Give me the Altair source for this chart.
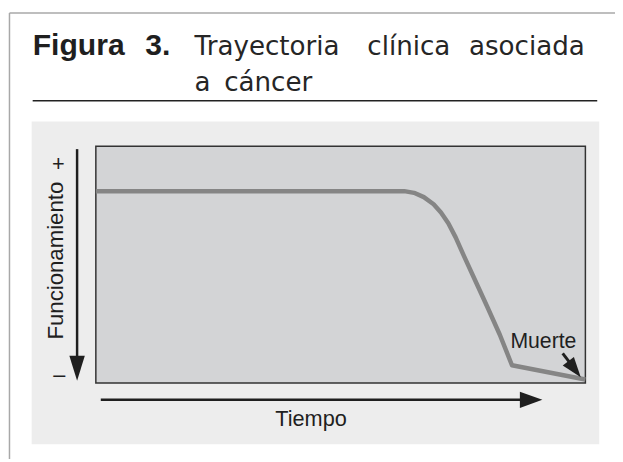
import altair as alt
import pandas as pd

# ---- data ----
time = [0, 63, 65, 67, 69, 70.5, 72, 73.5, 75, 77, 80, 82.5, 85, 100]
funcionamiento = [81, 81, 80.3, 78.5, 75.5, 72, 67.5, 61.5, 54.5, 45.5, 32, 20.5, 7.5, 1.5]

title_bold = ["Figura", "3."]
title_words_1 = ["Trayectoria", "clínica", "asociada"]
title_words_2 = ["a", "cáncer"]
y_label = "Funcionamiento"
x_label = "Tiempo"
death_label = "Muerte"

df = pd.DataFrame({"t": time, "f": funcionamiento})

W, H = 615, 454
xs = alt.Scale(domain=[0, 100], range=[89, 585])
ys = alt.Scale(domain=[0, 100], range=[377, 137])
one = alt.Data(values=[{}])

FRAME = "#a8a8a8"
INK = "#1f1f1f"
TEXT_FONT = "Liberation Sans"
TITLE_FONT = "DejaVu Sans"

def rule(x1, x2, y1, y2, color, width):
    return alt.Chart(one).mark_rule(color=color, strokeWidth=width).encode(
        x=alt.value(x1), x2=alt.value(x2), y=alt.value(y1), y2=alt.value(y2))

def label(txt, x, y, size, font, weight="normal", angle=0, align="left", baseline="alphabetic", color=INK):
    return alt.Chart(one).mark_text(
        text=txt, fontSize=size, font=font, fontWeight=weight, angle=angle,
        align=align, baseline=baseline, color=color).encode(x=alt.value(x), y=alt.value(y))

def head(x, y, size, angle, ratio=0.62):
    return alt.Chart(one).mark_point(
        shape=f"M-{ratio},-1 L{ratio},-1 L0,1 Z", filled=True, color=INK, opacity=1,
        size=size, angle=angle, strokeWidth=0).encode(x=alt.value(x), y=alt.value(y))

layers = []
# outer frame
layers.append(rule(1.5, W, 2, 2, FRAME, 1.5))
layers.append(rule(1.5, 1.5, 2, H, FRAME, 1.5))
# title
layers.append(label(title_bold[0], 25, 45, 30.5, TEXT_FONT, "bold"))
layers.append(label(title_bold[1], 139, 45, 30.5, TEXT_FONT, "bold"))
for w, x in zip(title_words_1, [189, 364, 467]):
    layers.append(label(w, x, 45, 26.5, TITLE_FONT, color="#262626"))
for w, x in zip(title_words_2, [189, 219]):
    layers.append(label(w, x, 81, 26.5, TITLE_FONT, color="#262626"))
layers.append(rule(25, 597, 91, 91, "#222222", 1.5))
# panel background
layers.append(alt.Chart(one).mark_rect(color="#ededed").encode(
    x=alt.value(24), x2=alt.value(599), y=alt.value(112), y2=alt.value(439)))
# plot area via data scales
layers.append(alt.Chart(alt.Data(values=[{"a": 0, "b": 100}])).mark_rect(
    fill="#d3d4d6", stroke="#333333", strokeWidth=1.5).encode(
    x=alt.X("a:Q", scale=xs, axis=None), x2="b:Q",
    y=alt.Y("a:Q", scale=ys, axis=None), y2="b:Q"))
# trajectory
layers.append(alt.Chart(df).mark_line(color="#858585", strokeWidth=4.5, interpolate="linear",
                                      strokeCap="butt", strokeJoin="round").encode(
    x=alt.X("t:Q", scale=xs, axis=None), y=alt.Y("f:Q", scale=ys, axis=None)))
# y-axis arrow
layers.append(rule(70, 70, 140, 358, INK, 2.5))
layers.append(head(70, 362, 640, 0, 0.62))
layers.append(label(y_label, 56, 253, 22.5, TEXT_FONT, angle=270, align="center"))
layers.append(label("+", 51, 155, 22, TEXT_FONT, align="center", baseline="middle"))
layers.append(label("–", 52, 369, 22, TEXT_FONT, align="center", baseline="middle"))
# x-axis arrow
layers.append(rule(94, 524, 394, 394, INK, 2.5))
layers.append(head(530, 394, 520, 270, 0.72))
layers.append(label(x_label, 307, 421, 22, TEXT_FONT, align="center"))
# death annotation
layers.append(label(death_label, 509, 341, 21.5, TEXT_FONT))
layers.append(rule(562, 569, 347, 356, INK, 3))
layers.append(head(574, 363, 420, 322, 0.7))

chart = alt.layer(*layers).properties(
    width=W, height=H, padding=0, autosize=alt.AutoSizeParams(type="none"),
    background="white"
).configure_view(stroke=None)

chart.save("out.html", embed_options={"renderer": "svg", "actions": False})
